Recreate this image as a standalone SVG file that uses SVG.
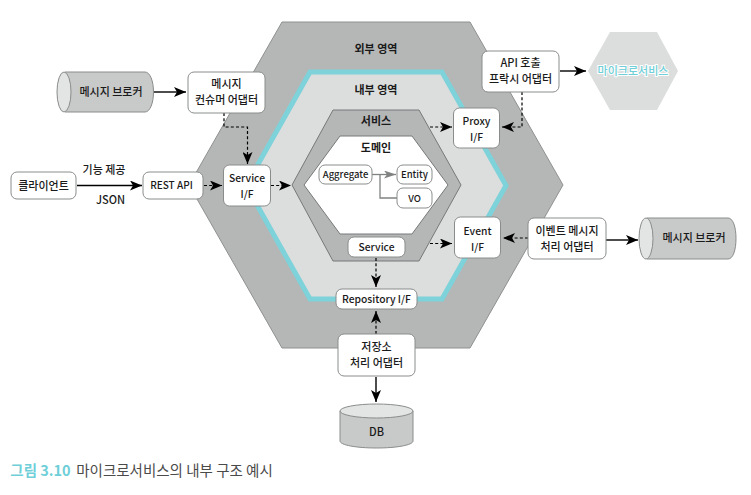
<svg xmlns="http://www.w3.org/2000/svg" width="751" height="495" viewBox="0 0 751 495">
<style>
text{font-family:"Noto Sans CJK KR","Noto Sans",sans-serif;font-size:11px;fill:#1a1a1a;text-anchor:middle;font-weight:500}
.l{font-size:10.300px}
.b{font-weight:700}
.n{fill:#fff;stroke:#8a8c8c;stroke-width:1}
.c{fill:#c8c9c9;stroke:#8a8c8c;stroke-width:1}
.e{fill:#e3e4e4;stroke:#8a8c8c;stroke-width:1}
.s{fill:none;stroke:#000;stroke-width:1.4;marker-end:url(#a)}
.d{fill:none;stroke:#000;stroke-width:1.2;stroke-dasharray:3 2.2;marker-end:url(#a)}
</style>
<defs>
<marker id="a" markerUnits="userSpaceOnUse" markerWidth="13" markerHeight="10" refX="12" refY="5" orient="auto"><path d="M0 0L12 5L0 10L3 5Z" fill="#000"/></marker>
<marker id="g" markerUnits="userSpaceOnUse" markerWidth="13" markerHeight="10" refX="12" refY="4" orient="auto"><path d="M0 0L12 4L0 8L3 4Z" fill="#808282"/></marker>
</defs>
<g id="hexagons">
<polygon points="282,22 470,22 563,185 470,348 282,348 189,185" fill="#b5b6b6" stroke="#8f9090"/>
<polygon points="310,72 442,72 506,185.500 442,299 310,299 246,185.500" fill="#dcdddd" stroke="#7ed2d9" stroke-width="5"/>
<polygon points="333,110 419,110 461,185 419,261 333,261 292,185" fill="#b5b6b6" stroke="#77787a"/>
<polygon points="340,136 412,136 448,185 412,234 340,234 304,185" fill="#fff" stroke="#77787a"/>
</g>
<g id="connectors">
<path class="s" d="M154 92H186"/>
<path class="s" d="M77 185.500H142"/>
<path class="d" d="M204 185.500H222"/>
<path class="d" d="M224 113V127H247.500V164"/>
<path class="d" d="M271 185.500H291"/>
<path class="d" d="M430 127H452"/>
<path class="d" d="M430 243.500H452"/>
<path class="d" d="M522 92V127H502"/>
<path class="d" d="M528 238H503"/>
<path class="s" d="M560 71H586"/>
<path class="s" d="M606 240H638"/>
<path class="d" d="M376 258V287"/>
<path class="d" d="M376 334V311"/>
<path class="s" d="M376 377V402"/>
<path d="M372 174.500H396" fill="none" stroke="#808282" stroke-width="1.300" marker-end="url(#g)"/>
<path d="M380 174.500V198H397" fill="none" stroke="#808282" stroke-width="1.300"/>
</g>
<g id="label-outer"><text class="b" x="376" y="52.500">외부 영역</text></g>
<g id="label-inner"><text class="b" x="376" y="93.500">내부 영역</text></g>
<g id="label-service"><text class="b" x="376" y="125">서비스</text></g>
<g id="label-domain"><text class="b" x="376" y="152">도메인</text></g>
<g id="broker-left">
<path class="c" d="M65 72H145C150 72 153.500 81 153.500 92S150 112 145 112H65Z"/>
<ellipse class="e" cx="64" cy="92" rx="7" ry="20"/>
<text x="111" y="96">메시지 브로커</text>
</g>
<g id="consumer"><rect class="n" x="188" y="72" width="77" height="41" rx="6"/><text x="226.500" y="88">메시지</text><text x="226.500" y="104">컨슈머 어댑터</text></g>
<g id="client"><rect class="n" x="11" y="172" width="65" height="27" rx="6"/><text x="43.500" y="189.500">클라이언트</text></g>
<g id="label-feature"><text x="104" y="174">기능 제공</text></g>
<g id="label-json"><text x="110.500" y="203.500">JSON</text></g>
<g id="rest"><rect class="n" x="143" y="172" width="60" height="27" rx="6"/><text x="171.500" y="189" style="font-size:10px">REST API</text></g>
<g id="service-if"><rect class="n" x="223.500" y="165" width="47" height="41" rx="6"/><text class="l" x="247" y="182">Service</text><text class="l" x="247" y="198">I/F</text></g>
<g id="proxy-if"><rect class="n" x="453.500" y="108" width="46" height="40" rx="6"/><text class="l" x="476.500" y="124.500">Proxy</text><text class="l" x="476.500" y="140.500">I/F</text></g>
<g id="event-if"><rect class="n" x="454.500" y="217" width="46" height="41" rx="6"/><text class="l" x="477.500" y="234.500">Event</text><text class="l" x="477.500" y="250.500">I/F</text></g>
<g id="api-proxy"><rect class="n" x="482" y="51" width="77" height="41" rx="6"/><text x="520.500" y="67">API 호출</text><text x="520.500" y="83">프락시 어댑터</text></g>
<g id="microservice"><polygon points="610,32 657,32 678,71 657,110 610,110 588,71" fill="#dcdddd"/><text x="633" y="75" style="fill:#6fcfd8;stroke:#fff;stroke-width:2;paint-order:stroke">마이크로서비스</text></g>
<g id="event-adapter"><rect class="n" x="528" y="218" width="78" height="41" rx="6"/><text x="567" y="235">이벤트 메시지</text><text x="567" y="251">처리 어댑터</text></g>
<g id="broker-right">
<path class="c" d="M647 218H728C733 218 736 227 736 238.500S733 259 728 259H647Z"/>
<ellipse class="e" cx="646" cy="238.500" rx="7" ry="20.500"/>
<text x="694" y="242">메시지 브로커</text>
</g>
<g id="aggregate"><rect class="n" x="319" y="165" width="53" height="19" rx="6"/><text x="345.500" y="178" style="font-size:9.500px">Aggregate</text></g>
<g id="entity"><rect class="n" x="397" y="165" width="35" height="19" rx="6"/><text x="414.500" y="178" style="font-size:9.500px">Entity</text></g>
<g id="vo"><rect class="n" x="397" y="188" width="35" height="20" rx="6"/><text x="414.500" y="201.500" style="font-size:9.500px">VO</text></g>
<g id="service"><rect class="n" x="348" y="237" width="57" height="20" rx="6"/><text class="l" x="376.500" y="251">Service</text></g>
<g id="repository"><rect class="n" x="336" y="289" width="81" height="20" rx="6"/><text class="l" x="376.500" y="303">Repository I/F</text></g>
<g id="storage"><rect class="n" x="338" y="334" width="77" height="42" rx="6"/><text x="376.500" y="351">저장소</text><text x="376.500" y="367">처리 어댑터</text></g>
<g id="db">
<path class="c" d="M340 411V441C340 445 356 448 376.500 448S413 445 413 441V411Z"/>
<ellipse class="e" cx="376.500" cy="411" rx="36.500" ry="7"/>
<text x="376.500" y="436">DB</text>
</g>
<g id="caption"><text x="40.500" y="476" style="font-size:14.500px;font-weight:700;fill:#6fcfd8">그림 3.10</text><text x="174.500" y="476" style="font-size:14.500px;font-weight:400;fill:#4a4a4a">마이크로서비스의 내부 구조 예시</text></g>
</svg>
